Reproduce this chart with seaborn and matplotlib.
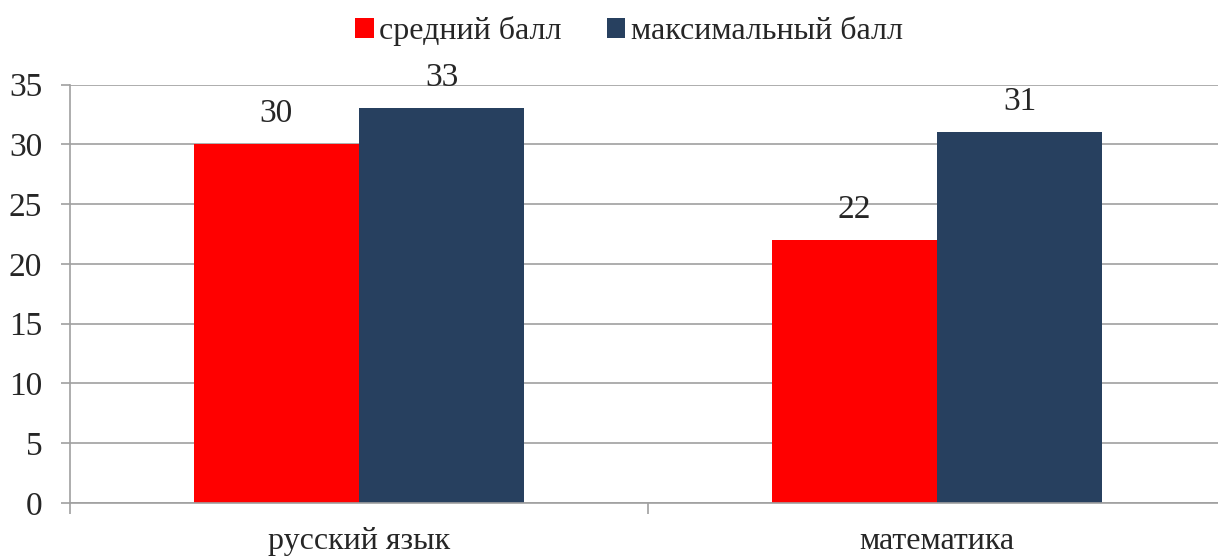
import matplotlib
matplotlib.use("Agg")
import matplotlib.pyplot as plt
import seaborn as sns
import pandas as pd

categories = ["русский язык", "математика"]
series_names = ["средний балл", "максимальный балл"]
avg_scores = [30, 22]
max_scores = [33, 31]
y_ticks = [0, 5, 10, 15, 20, 25, 30, 35]

colors = ["#FF0000", "#27405F"]

df = pd.DataFrame({
    "category": categories * 2,
    "series": [series_names[0]] * len(categories) + [series_names[1]] * len(categories),
    "value": avg_scores + max_scores,
})

sns.set_theme(style="white")
plt.rcParams["font.family"] = ["Liberation Serif", "DejaVu Serif"]

FS = 23
W, H = 1218, 558
fig = plt.figure(figsize=(W / 100, H / 100), dpi=100)
left, right, top, bottom = 70, 1226, 84.5, 503
ax = fig.add_axes([left / W, (H - bottom) / H, (right - left) / W, (bottom - top) / H])

sns.barplot(data=df, x="category", y="value", hue="series", order=categories,
            hue_order=series_names, palette=colors, width=0.572, saturation=1,
            ax=ax, legend=True, linewidth=0)

ax.set_ylim(0, 35)
ax.set_xlim(-0.5, 1.5)
ax.set_yticks(y_ticks)
ax.set_yticklabels([str(t) for t in y_ticks], fontsize=24)
ax.set_xlabel("")
ax.set_ylabel("")

grid_c = "#A0A0A0"
ax.yaxis.grid(True, color=grid_c, linewidth=1.2)
ax.set_axisbelow(True)
for s in ["top", "right"]:
    ax.spines[s].set_visible(False)
for s in ["left", "bottom"]:
    ax.spines[s].set_color(grid_c)
    ax.spines[s].set_linewidth(1.2)

ax.tick_params(axis="y", length=6.5, width=1.2, color=grid_c, pad=13.5, left=True, labelsize=24)
# category boundary ticks on the x axis
ax.set_xticks([-0.5, 0.5, 1.5], minor=True)
ax.set_xticks([0, 1])
ax.set_xticklabels(categories, fontsize=FS)
ax.tick_params(axis="x", which="minor", length=8, width=1.2, color=grid_c, bottom=True)
ax.tick_params(axis="x", which="major", length=0, pad=17)

for cont in ax.containers:
    ax.bar_label(cont, fontsize=24, padding=11)

handles, labels = ax.get_legend_handles_labels()
ax.legend_.remove()
fig.legend(handles, labels, loc="center", bbox_to_anchor=(629 / W, 1 - 31 / H), ncol=2,
           frameon=False, fontsize=FS, handlelength=0.58, handleheight=0.58,
           handletextpad=0.17, columnspacing=1.4)

fig.savefig("out.png", dpi=100)
